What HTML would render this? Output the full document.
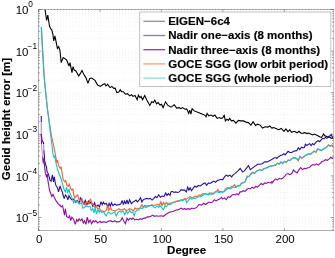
<!DOCTYPE html>
<html><head><meta charset="utf-8"><title>chart</title>
<style>html,body{margin:0;padding:0;background:#fff;}body{width:335px;height:258px;position:relative;overflow:hidden;font-family:"Liberation Sans",sans-serif;}</style></head>
<body>
<svg width="335" height="258" viewBox="0 0 335 258" style="position:absolute;left:0;top:0;will-change:transform">
<rect x="0" y="0" width="335" height="258" fill="#fff"/>
<g stroke="#dedede" stroke-width="0.6" stroke-dasharray="0.7,2.4" fill="none"><line x1="100.0" y1="9.5" x2="100.0" y2="230.5"/><line x1="161.4" y1="9.5" x2="161.4" y2="230.5"/><line x1="222.9" y1="9.5" x2="222.9" y2="230.5"/><line x1="284.4" y1="9.5" x2="284.4" y2="230.5"/><line x1="38.5" y1="38.6" x2="333.5" y2="38.6"/><line x1="38.5" y1="31.3" x2="333.5" y2="31.3"/><line x1="38.5" y1="26.1" x2="333.5" y2="26.1"/><line x1="38.5" y1="22.0" x2="333.5" y2="22.0"/><line x1="38.5" y1="18.7" x2="333.5" y2="18.7"/><line x1="38.5" y1="15.9" x2="333.5" y2="15.9"/><line x1="38.5" y1="13.5" x2="333.5" y2="13.5"/><line x1="38.5" y1="11.4" x2="333.5" y2="11.4"/><line x1="38.5" y1="51.1" x2="333.5" y2="51.1"/><line x1="38.5" y1="80.2" x2="333.5" y2="80.2"/><line x1="38.5" y1="72.9" x2="333.5" y2="72.9"/><line x1="38.5" y1="67.7" x2="333.5" y2="67.7"/><line x1="38.5" y1="63.6" x2="333.5" y2="63.6"/><line x1="38.5" y1="60.3" x2="333.5" y2="60.3"/><line x1="38.5" y1="57.5" x2="333.5" y2="57.5"/><line x1="38.5" y1="55.1" x2="333.5" y2="55.1"/><line x1="38.5" y1="53.0" x2="333.5" y2="53.0"/><line x1="38.5" y1="92.7" x2="333.5" y2="92.7"/><line x1="38.5" y1="121.8" x2="333.5" y2="121.8"/><line x1="38.5" y1="114.5" x2="333.5" y2="114.5"/><line x1="38.5" y1="109.3" x2="333.5" y2="109.3"/><line x1="38.5" y1="105.2" x2="333.5" y2="105.2"/><line x1="38.5" y1="101.9" x2="333.5" y2="101.9"/><line x1="38.5" y1="99.1" x2="333.5" y2="99.1"/><line x1="38.5" y1="96.7" x2="333.5" y2="96.7"/><line x1="38.5" y1="94.6" x2="333.5" y2="94.6"/><line x1="38.5" y1="134.3" x2="333.5" y2="134.3"/><line x1="38.5" y1="163.4" x2="333.5" y2="163.4"/><line x1="38.5" y1="156.1" x2="333.5" y2="156.1"/><line x1="38.5" y1="150.9" x2="333.5" y2="150.9"/><line x1="38.5" y1="146.8" x2="333.5" y2="146.8"/><line x1="38.5" y1="143.5" x2="333.5" y2="143.5"/><line x1="38.5" y1="140.7" x2="333.5" y2="140.7"/><line x1="38.5" y1="138.3" x2="333.5" y2="138.3"/><line x1="38.5" y1="136.2" x2="333.5" y2="136.2"/><line x1="38.5" y1="175.9" x2="333.5" y2="175.9"/><line x1="38.5" y1="205.0" x2="333.5" y2="205.0"/><line x1="38.5" y1="197.7" x2="333.5" y2="197.7"/><line x1="38.5" y1="192.5" x2="333.5" y2="192.5"/><line x1="38.5" y1="188.4" x2="333.5" y2="188.4"/><line x1="38.5" y1="185.1" x2="333.5" y2="185.1"/><line x1="38.5" y1="182.3" x2="333.5" y2="182.3"/><line x1="38.5" y1="179.9" x2="333.5" y2="179.9"/><line x1="38.5" y1="177.8" x2="333.5" y2="177.8"/><line x1="38.5" y1="217.5" x2="333.5" y2="217.5"/><line x1="38.5" y1="226.7" x2="333.5" y2="226.7"/><line x1="38.5" y1="223.9" x2="333.5" y2="223.9"/><line x1="38.5" y1="221.5" x2="333.5" y2="221.5"/><line x1="38.5" y1="219.4" x2="333.5" y2="219.4"/></g>
<defs><clipPath id="c"><rect x="38.5" y="9.5" width="295.0" height="221.0"/></clipPath></defs>
<g clip-path="url(#c)">
<polyline points="45.0,9.0 46.6,20.5 47.8,15.1 48.6,20.5 49.6,26.5 50.7,28.9 51.7,29.5 52.9,34.3 53.7,40.9 54.9,35.9 57.4,48.4 58.7,46.7 59.9,50.0 61.2,62.6 63.2,57.6 66.6,59.8 69.0,66.0 70.0,62.6 72.0,72.6 73.0,66.7 74.2,70.0 75.9,70.9 78.7,75.9 80.4,73.4 82.0,70.4 83.7,74.2 85.9,77.6 88.0,83.4 89.7,78.4 91.7,78.0 95.0,80.4 97.6,85.1 100.4,86.4 102.6,84.8 104.8,83.8 106.0,85.9 107.6,84.3 110.1,87.6 111.8,86.4 113.8,88.4 115.2,88.1 116.8,92.6 118.8,92.1 120.2,89.8 121.7,91.7 123.3,91.7 125.4,94.2 127.5,93.7 129.7,95.9 131.4,94.7 133.0,96.4 135.0,95.4 137.2,99.7 138.4,95.1 140.0,97.6 141.0,96.4 142.6,99.7 144.7,95.6 146.8,100.1 149.8,105.4 151.8,101.8 153.4,102.6 154.8,100.1 156.5,103.8 158.1,102.6 160.1,105.1 161.5,104.3 163.1,107.6 165.5,101.8 167.7,105.1 171.0,107.1 172.0,106.4 174.2,104.7 176.7,108.1 179.2,107.6 180.9,108.7 182.5,107.6 185.0,109.2 186.7,108.9 188.7,113.4 189.7,110.1 190.9,114.2 192.1,108.7 194.2,110.9 198.4,112.6 202.6,114.2 204.8,115.1 206.0,116.8 207.1,113.4 208.8,115.9 211.0,115.1 213.1,116.3 214.8,115.1 217.2,118.4 219.3,117.6 221.0,118.4 222.5,118.1 224.2,115.4 225.4,120.9 227.0,119.2 228.4,120.4 229.7,118.4 231.4,120.9 233.4,120.4 235.9,123.1 238.4,120.4 240.9,120.9 243.4,120.9 245.9,122.1 248.4,122.6 250.9,125.1 253.1,121.7 255.5,125.4 257.6,124.2 260.1,125.1 262.6,128.1 265.2,126.8 267.7,127.1 269.8,125.9 271.8,128.1 273.8,127.6 275.8,128.4 278.7,129.7 281.3,128.4 284.0,131.3 285.9,129.0 287.9,131.7 289.8,129.9 291.7,132.3 294.3,131.3 297.2,132.8 299.1,131.3 301.0,133.2 303.0,133.1 304.9,132.6 306.8,133.6 308.7,133.1 310.6,134.0 312.6,135.0 314.5,134.0 316.4,135.0 318.3,135.9 320.2,136.9 321.6,137.4 323.5,134.0 325.0,135.9 326.9,136.4 328.3,137.4 329.7,136.9 331.2,138.3 332.6,137.8 333.6,138.8" fill="none" stroke="#000" stroke-width="1.1" stroke-linejoin="miter" stroke-miterlimit="3" stroke-linecap="butt"/>
<polyline points="41.2,116.0 41.3,116.5 41.3,117.0 41.3,117.5 41.3,118.0 41.3,118.5 41.3,119.0 41.3,119.5 41.3,120.0 41.3,120.5 41.3,121.0 41.3,121.5 41.3,122.0" fill="none" stroke="#2a0f9c" stroke-width="1.1" stroke-linejoin="miter" stroke-miterlimit="3" stroke-linecap="butt"/><polyline points="41.3,122.0 41.3,122.5 41.3,123.0 41.3,123.5 41.3,124.0 41.3,124.5 41.3,125.0 41.3,125.5 41.3,126.0 41.3,126.5 41.3,127.0 41.3,127.5 41.3,128.0 41.3,128.5 41.3,129.0 41.3,129.5 41.3,130.0 41.3,130.5 41.3,131.0 41.3,131.5 41.3,132.0 41.3,132.5 41.3,133.0 41.3,133.5 41.3,134.0" fill="none" stroke="#9d92d4" stroke-width="1.1" stroke-linejoin="miter" stroke-miterlimit="3" stroke-linecap="butt"/><polyline points="41.3,134.0 41.3,134.5 41.3,135.0 41.4,135.5 41.5,136.1 41.5,136.6 41.6,137.1 41.7,137.6 41.8,138.2 41.9,138.7 42.0,139.2 42.0,139.7 42.1,140.2 42.2,140.8 42.3,141.3 42.9,141.9 43.5,142.5 43.5,143.0 43.6,143.5 43.6,144.0" fill="none" stroke="#2a0f9c" stroke-width="1.1" stroke-linejoin="miter" stroke-miterlimit="3" stroke-linecap="butt"/><polyline points="43.6,144.0 43.6,144.6 43.6,145.1 43.7,145.6 43.7,146.1 43.7,146.6 43.7,147.1 43.8,147.6 43.8,148.2 43.8,148.7 43.9,149.2 43.9,149.7 43.9,150.2" fill="none" stroke="#9d92d4" stroke-width="1.1" stroke-linejoin="miter" stroke-miterlimit="3" stroke-linecap="butt"/><polyline points="43.9,150.2 43.9,150.7 44.0,151.2 44.0,151.7 44.0,152.3 44.0,152.8 44.1,153.3 44.1,153.8 44.2,154.4 44.4,155.0 44.4,155.5 44.4,156.1 44.5,156.6 44.5,157.2 44.5,157.7 44.5,158.2 44.5,158.8 44.6,159.3 44.6,159.9 44.6,160.4 44.7,160.9 44.9,161.4 45.0,162.0 45.1,162.5 45.2,163.0 45.4,163.6 45.5,164.1 45.6,164.6 45.8,165.2 46.0,165.8 46.3,166.3 46.5,166.9 47.0,171.7 47.9,172.9 48.9,175.9 50.1,180.3 51.2,181.1 52.4,174.8 53.5,181.8 54.3,176.8 55.5,184.2 55.9,185.2 57.7,188.1 58.5,191.9 60.1,186.0 61.5,190.1 62.7,193.1 63.0,195.0 64.2,198.6 65.4,195.0 66.6,196.2 67.8,199.8 69.0,195.6 70.1,198.0 71.9,199.8 73.7,199.2 75.5,202.2 77.3,200.4 79.1,203.4 80.5,197.4 82.1,201.0 83.9,204.0 85.3,200.4 86.9,204.6 88.7,201.0 89.9,203.4 91.3,201.6 92.8,206.3 94.6,202.8 95.8,206.9 96.4,206.3 98.0,205.1 99.5,206.9 101.0,201.6 102.2,204.6 103.4,202.2 104.6,204.0 106.3,203.4 107.9,206.9 109.1,203.4 110.3,206.3 111.5,202.8 112.9,205.7 114.7,204.0 116.5,205.1 118.9,204.6 120.7,204.0 122.2,200.4 123.4,204.6 124.6,201.0 125.8,204.0 127.0,199.8 128.2,204.0 129.6,199.8 131.4,203.7 133.0,201.9 134.5,201.3 136.0,200.1 137.4,201.9 139.0,200.1 140.5,197.8 141.9,201.9 143.4,199.6 144.9,199.0 146.7,198.4 148.5,199.0 150.3,198.4 152.1,200.1 153.9,198.4 155.3,196.6 156.9,197.8 158.7,194.8 160.4,197.2 162.2,196.0 164.0,196.6 165.6,193.0 167.0,195.4 168.4,193.6 170.0,195.4 171.0,191.9 172.4,191.3 174.0,192.5 175.7,191.9 177.5,192.5 179.3,191.9 181.1,189.6 182.9,190.1 184.7,190.1 186.3,191.9 187.7,187.2 188.9,190.1 190.1,187.8 191.5,190.7 193.1,188.4 194.9,186.0 196.6,187.2 198.4,185.4 200.2,186.0 202.0,184.8 203.4,183.6 205.0,183.0 206.6,185.3 208.4,182.9 210.1,183.5 211.9,182.3 213.7,181.1 215.5,182.3 217.3,180.5 219.1,179.9 220.9,179.3 222.7,179.9 224.5,176.9 226.3,175.1 228.1,176.3 229.9,175.1 231.6,176.9 233.4,174.6 235.2,173.4 236.0,172.7 238.2,170.6 240.2,168.5 242.6,172.1 244.4,170.9 246.7,167.9 248.5,165.5 250.3,169.7 252.7,167.9 255.1,166.1 257.5,164.3 259.9,164.3 262.3,163.7 264.7,161.9 267.0,161.9 269.4,160.7 271.8,159.6 274.2,157.8 276.0,157.8 276.8,158.5 278.6,156.7 280.4,155.5 282.1,154.9 283.9,153.7 285.1,154.9 286.6,153.1 288.1,151.3 289.9,152.5 291.7,152.5 293.5,151.3 295.3,150.9 296.8,150.7 298.3,147.8 299.8,149.6 301.6,147.2 303.4,147.8 304.4,147.4 305.4,144.3 306.8,145.5 308.3,144.4 309.7,143.6 311.1,145.5 312.6,143.6 314.0,144.8 315.4,142.9 316.8,141.4 318.3,140.7 319.7,141.7 321.1,139.8 322.6,138.3 324.0,138.8 325.4,137.4 326.9,138.3 328.3,136.4 329.7,135.9 331.2,134.5 332.6,137.8 333.6,136.4" fill="none" stroke="#2a0f9c" stroke-width="1.1" stroke-linejoin="miter" stroke-miterlimit="3" stroke-linecap="butt"/>
<polyline points="41.2,134.0 41.3,134.5 41.3,135.0 41.3,135.5 41.3,136.0 41.3,136.5 41.3,137.0 41.3,137.5 41.4,138.0 41.4,138.5 41.4,139.0 41.4,139.5 41.4,140.0 41.4,140.5 41.4,141.0 41.4,141.5 41.5,142.0 41.5,142.5 41.5,143.0 41.5,143.5 41.5,144.0" fill="none" stroke="#8e0f9e" stroke-width="1.1" stroke-linejoin="miter" stroke-miterlimit="3" stroke-linecap="butt"/><polyline points="41.5,144.0 41.5,144.5 41.5,145.0 41.5,145.5 41.6,146.0 41.6,146.5 41.6,147.0 41.6,147.5 41.7,148.0 41.7,148.5 41.8,149.0 41.9,149.5 41.9,150.0 42.0,150.5 42.1,151.0 42.1,151.5 42.2,152.0 42.3,152.5 42.3,153.0 42.4,153.5 42.5,154.0 42.5,154.5 42.6,155.0 42.6,155.5 42.7,156.1 42.7,156.6" fill="none" stroke="#cf95d6" stroke-width="1.1" stroke-linejoin="miter" stroke-miterlimit="3" stroke-linecap="butt"/><polyline points="42.7,156.6 42.7,157.1 42.8,157.7 42.8,158.2 42.8,158.7 42.9,159.3 42.9,159.8 43.0,160.3 43.0,160.8 43.1,161.3 43.2,161.9 43.3,162.4 43.3,162.9 43.4,163.4 43.5,162.9 43.5,162.3 43.6,161.8 43.6,161.3 43.7,160.7 43.7,160.2 43.8,159.7 43.8,159.1 43.9,158.6 43.9,159.1 44.0,159.6 44.0,160.1 44.1,160.6 44.1,161.1 44.1,161.6 44.2,162.1 44.2,162.6 44.3,163.1 44.3,163.6 44.4,164.1 44.4,164.6 44.5,165.1 44.5,165.6 44.6,166.2 44.6,166.7 44.7,167.2 44.7,167.7 44.8,168.2 44.8,168.8 44.9,169.3 45.0,169.8 45.0,170.3 45.1,170.8 45.1,171.3 45.2,171.9 45.2,172.4 45.3,172.9 45.5,173.4 45.6,173.9 45.8,174.4 46.0,175.0 46.2,175.5 46.3,176.0 46.5,176.5 47.3,174.1 47.9,180.7 48.5,184.0 49.6,190.5 50.7,193.3 51.8,196.5 53.0,194.5 54.4,197.5 56.1,200.9 57.9,203.3 59.4,205.1 60.0,205.1 61.2,206.9 62.6,205.7 63.6,210.5 64.5,215.3 65.4,208.7 66.6,216.5 68.4,217.7 69.6,215.9 70.7,220.7 71.9,217.1 73.7,219.5 75.3,224.3 76.7,219.5 77.9,221.3 79.1,218.9 80.5,220.7 82.1,218.9 83.3,223.1 84.5,220.7 86.0,224.3 87.2,217.1 88.7,222.5 90.1,220.1 91.6,223.7 93.2,220.7 94.6,221.9 95.8,220.7 97.6,223.1 100.0,221.3 101.0,222.5 102.8,221.9 104.6,221.9 106.3,222.5 108.1,221.3 110.5,220.7 112.9,221.9 114.7,220.7 116.5,221.9 118.9,221.9 120.7,220.7 122.2,217.7 123.7,220.7 125.4,223.7 127.0,218.3 128.4,220.1 130.2,218.3 131.8,219.3 133.0,218.1 134.8,219.9 136.6,219.3 138.4,219.9 140.1,218.7 141.9,219.3 143.7,218.1 145.5,218.1 147.3,216.9 149.1,216.9 150.9,216.3 152.7,215.1 154.5,216.3 156.3,215.7 158.7,216.3 161.0,215.7 163.4,216.3 165.8,214.5 167.6,213.3 170.0,212.1 171.5,211.8 173.4,211.3 175.5,210.2 177.5,209.9 179.3,209.3 181.1,208.1 182.9,209.3 184.7,208.7 186.5,209.3 188.3,208.7 190.1,209.3 191.9,208.1 193.7,208.7 195.4,208.1 197.2,206.9 199.0,204.5 201.8,205.1 203.6,203.3 205.4,204.5 207.2,203.3 209.0,202.1 210.7,202.7 212.5,202.1 214.3,199.7 216.1,200.9 217.9,199.7 219.7,199.1 221.5,197.3 222.7,199.1 224.5,197.9 226.3,199.7 228.1,196.7 229.9,197.3 231.6,195.5 233.4,194.3 235.2,194.9 237.0,193.7 238.4,194.9 240.0,191.9 241.4,191.9 243.2,190.7 245.0,191.3 246.7,189.5 248.5,188.3 250.3,188.9 252.1,187.1 253.9,188.3 255.7,186.5 257.5,187.1 259.3,185.3 261.1,183.5 262.9,184.7 264.7,182.9 266.4,183.5 268.2,182.3 270.0,182.9 271.8,181.7 272.0,183.1 273.8,180.7 275.6,178.9 277.4,180.1 279.2,178.3 281.0,178.9 282.7,178.3 284.5,176.5 286.3,174.1 288.1,173.5 289.9,174.7 291.7,173.5 293.5,169.9 295.3,171.7 297.1,172.9 298.9,169.9 300.7,167.7 302.4,169.6 304.2,168.4 306.0,168.7 307.8,167.7 309.5,167.5 311.1,165.7 312.9,164.5 314.7,165.1 316.5,163.9 318.3,165.1 320.1,163.3 321.9,161.5 323.7,160.9 325.4,159.7 327.2,160.3 329.0,159.1 330.8,157.3 332.3,158.5 333.5,157.3" fill="none" stroke="#8e0f9e" stroke-width="1.1" stroke-linejoin="miter" stroke-miterlimit="3" stroke-linecap="butt"/>
<polyline points="41.4,27.2 42.4,45.0 44.2,77.0 47.1,107.0 51.3,135.0 53.5,145.0 54.8,151.3 56.0,158.2 57.0,163.2 57.5,160.0 58.6,165.9 60.2,168.4 61.1,166.7 62.4,175.0 63.3,180.0 64.9,181.8 65.7,180.6 66.9,185.4 68.1,186.6 69.3,184.2 70.5,188.4 71.7,190.1 72.9,189.0 73.7,195.0 74.9,198.0 76.1,196.2 77.7,195.0 79.1,199.8 80.9,201.6 82.1,199.2 83.3,203.4 85.1,205.1 86.9,201.6 88.7,204.0 90.4,198.6 92.0,204.0 93.4,205.1 94.9,207.5 96.4,205.7 97.4,208.7 99.2,208.1 100.7,210.5 102.8,211.1 104.6,211.7 106.3,210.5 107.5,205.7 108.7,210.5 110.3,207.5 111.7,209.9 113.5,210.5 115.3,211.1 117.1,209.9 118.9,208.7 120.7,209.9 122.5,209.9 124.3,208.7 126.0,210.5 127.8,209.9 129.6,208.7 131.8,209.7 133.6,210.9 135.0,207.9 136.6,209.1 138.4,208.5 140.1,207.9 141.9,204.9 143.4,207.3 144.9,205.5 146.7,206.1 148.5,205.5 150.3,205.5 152.1,204.9 153.9,205.5 155.7,204.9 157.5,204.3 159.3,205.5 160.8,201.9 162.0,205.5 163.4,202.5 164.9,204.9 166.4,202.5 168.2,204.3 170.0,203.1 172.2,202.7 174.0,202.1 175.7,201.5 177.5,200.9 179.3,200.9 181.1,199.7 182.9,199.7 184.7,198.5 186.5,199.1 188.3,197.9 190.1,196.7 191.9,197.9 193.7,197.3 195.4,196.1 197.2,196.7 199.0,194.9 200.8,195.5 202.6,193.7 205.0,193.7 206.0,193.7 207.8,194.3 209.6,193.1 211.3,193.1 213.1,193.7 214.9,191.9 216.7,191.3 217.9,189.5 219.1,191.9 220.9,191.3 222.7,191.9 224.5,190.7 226.3,188.3 228.1,187.7 229.9,188.3 231.6,186.5 233.4,185.9 234.6,184.7 235.8,187.1 237.3,185.9 238.8,185.3 240.0,185.3 241.4,183.3 243.2,182.5 245.0,181.9 246.1,179.0 247.3,176.2 249.1,176.5 250.9,173.7 252.7,172.3 254.5,173.6 256.3,171.2 258.1,170.6 259.9,169.4 261.7,170.6 263.5,168.8 265.3,168.2 267.0,167.4 268.8,167.0 270.6,165.8 272.4,165.9 274.2,165.2 276.0,164.9 277.4,163.0 279.2,164.2 281.0,161.8 282.7,163.6 284.5,161.2 286.3,162.5 288.1,160.0 289.9,160.7 291.7,158.8 293.5,157.6 295.3,158.2 296.8,158.9 298.3,160.9 299.8,156.4 301.6,158.2 303.4,157.0 305.1,155.8 306.9,154.6 308.7,154.1 310.5,154.0 312.3,152.9 314.1,151.0 315.9,152.4 317.7,148.7 319.5,149.9 321.3,150.4 323.1,149.3 324.9,148.1 326.6,147.4 328.4,144.9 330.2,146.3 332.0,145.1 333.5,147.2" fill="none" stroke="#ff5a2e" stroke-width="1.1" stroke-linejoin="miter" stroke-miterlimit="3" stroke-linecap="butt"/>
<polyline points="41.3,26.7 42.2,45.0 44.1,77.0 47.3,107.0 50.6,135.0 52.0,145.0 52.9,153.8 54.2,158.2 54.8,155.7 56.0,163.2 57.7,170.0 60.2,176.7 61.5,180.0 62.7,184.8 63.9,189.0 65.3,191.9 66.5,187.2 67.7,193.1 68.9,189.0 69.9,193.1 71.3,196.1 72.5,199.2 73.7,202.8 74.9,200.4 76.7,202.2 77.9,201.0 79.7,204.0 81.5,202.8 82.7,208.1 84.5,207.5 86.3,205.7 88.1,206.9 89.9,206.3 91.3,210.5 92.8,208.7 94.0,212.9 95.2,207.5 96.4,214.1 98.0,209.3 99.2,212.3 100.0,210.5 101.6,212.3 103.4,211.7 105.1,214.7 106.3,215.9 107.5,212.9 109.3,212.3 111.1,214.1 112.9,212.9 114.7,212.3 116.3,215.9 117.7,212.9 119.5,211.1 121.3,212.3 123.1,211.1 124.9,214.7 126.3,211.1 127.8,213.5 129.6,210.5 131.4,212.7 132.6,212.1 134.2,215.7 135.4,211.5 137.2,210.3 139.0,209.7 140.7,207.9 142.5,208.5 144.3,206.7 146.1,207.3 147.9,206.7 149.7,206.1 151.5,204.9 153.3,206.7 155.1,207.9 156.9,206.1 158.7,207.3 160.4,206.1 162.0,207.9 163.4,209.7 164.9,206.1 166.4,206.7 168.2,203.7 170.0,204.9 171.6,203.3 173.4,202.7 175.1,202.1 176.9,201.5 178.7,201.5 180.5,200.3 182.3,200.9 184.1,199.7 185.5,199.1 186.7,202.7 188.3,200.3 190.1,198.5 191.9,199.1 193.7,197.9 195.4,198.5 197.2,197.3 199.0,196.7 200.8,196.7 202.6,195.5 205.0,194.3 206.0,194.3 208.4,194.9 210.1,193.7 211.9,194.3 213.7,193.7 215.5,191.9 217.3,191.9 219.1,192.5 220.9,191.9 222.7,192.5 224.5,191.3 226.3,189.5 228.1,188.3 229.9,188.9 231.6,188.3 233.4,187.1 235.2,187.7 237.0,186.5 238.8,185.9 240.0,185.9 241.4,183.5 243.2,182.9 245.0,181.7 246.1,179.3 247.3,176.9 249.1,176.3 250.9,174.0 252.7,172.8 254.5,173.4 256.3,171.6 258.1,170.4 259.9,169.8 261.7,170.4 263.5,169.2 265.3,168.0 267.0,168.0 268.8,166.8 270.6,166.2 272.4,165.6 274.2,165.6 276.0,164.6 277.4,163.3 279.2,163.9 281.0,162.1 282.7,163.3 284.5,161.5 286.3,162.1 288.1,160.3 289.9,160.3 291.7,159.1 293.5,157.9 295.3,157.9 296.8,158.5 298.3,160.3 299.8,156.7 301.6,157.9 303.4,157.3 305.1,155.5 306.9,154.9 308.7,153.7 310.5,154.3 312.3,152.5 314.1,151.3 315.9,151.9 317.7,149.0 319.5,149.6 321.3,150.7 323.1,149.0 324.9,148.4 326.6,147.2 328.4,145.4 330.2,146.0 332.0,145.4 333.5,146.6" fill="none" stroke="#12c4c8" stroke-width="1.1" stroke-linejoin="miter" stroke-miterlimit="3" stroke-linecap="butt"/>
</g>
<g stroke-width="0.6" fill="none">
<line x1="38.5" y1="9.2" x2="38.5" y2="230.8" stroke="#777"/>
<line x1="38.2" y1="230.5" x2="333.8" y2="230.5" stroke="#777"/>
<line x1="333.5" y1="9.2" x2="333.5" y2="230.8" stroke="#999"/>
<line x1="38.2" y1="9.5" x2="333.8" y2="9.5" stroke="#888"/>
<line x1="38.5" y1="9.5" x2="333.5" y2="9.5" stroke="#555" stroke-dasharray="0.8,2.3"/>
</g>
<g stroke="#555" stroke-width="0.55"><line x1="38.5" y1="230.5" x2="38.5" y2="228.2"/><line x1="38.5" y1="9.5" x2="38.5" y2="11.8"/><line x1="100.0" y1="230.5" x2="100.0" y2="228.2"/><line x1="100.0" y1="9.5" x2="100.0" y2="11.8"/><line x1="161.4" y1="230.5" x2="161.4" y2="228.2"/><line x1="161.4" y1="9.5" x2="161.4" y2="11.8"/><line x1="222.9" y1="230.5" x2="222.9" y2="228.2"/><line x1="222.9" y1="9.5" x2="222.9" y2="11.8"/><line x1="284.4" y1="230.5" x2="284.4" y2="228.2"/><line x1="284.4" y1="9.5" x2="284.4" y2="11.8"/><line x1="38.5" y1="9.5" x2="41.3" y2="9.5"/><line x1="333.5" y1="9.5" x2="330.7" y2="9.5"/><line x1="38.5" y1="38.6" x2="39.9" y2="38.6"/><line x1="333.5" y1="38.6" x2="332.1" y2="38.6"/><line x1="38.5" y1="31.3" x2="39.9" y2="31.3"/><line x1="333.5" y1="31.3" x2="332.1" y2="31.3"/><line x1="38.5" y1="26.1" x2="39.9" y2="26.1"/><line x1="333.5" y1="26.1" x2="332.1" y2="26.1"/><line x1="38.5" y1="22.0" x2="39.9" y2="22.0"/><line x1="333.5" y1="22.0" x2="332.1" y2="22.0"/><line x1="38.5" y1="18.7" x2="39.9" y2="18.7"/><line x1="333.5" y1="18.7" x2="332.1" y2="18.7"/><line x1="38.5" y1="15.9" x2="39.9" y2="15.9"/><line x1="333.5" y1="15.9" x2="332.1" y2="15.9"/><line x1="38.5" y1="13.5" x2="39.9" y2="13.5"/><line x1="333.5" y1="13.5" x2="332.1" y2="13.5"/><line x1="38.5" y1="11.4" x2="39.9" y2="11.4"/><line x1="333.5" y1="11.4" x2="332.1" y2="11.4"/><line x1="38.5" y1="51.1" x2="41.3" y2="51.1"/><line x1="333.5" y1="51.1" x2="330.7" y2="51.1"/><line x1="38.5" y1="80.2" x2="39.9" y2="80.2"/><line x1="333.5" y1="80.2" x2="332.1" y2="80.2"/><line x1="38.5" y1="72.9" x2="39.9" y2="72.9"/><line x1="333.5" y1="72.9" x2="332.1" y2="72.9"/><line x1="38.5" y1="67.7" x2="39.9" y2="67.7"/><line x1="333.5" y1="67.7" x2="332.1" y2="67.7"/><line x1="38.5" y1="63.6" x2="39.9" y2="63.6"/><line x1="333.5" y1="63.6" x2="332.1" y2="63.6"/><line x1="38.5" y1="60.3" x2="39.9" y2="60.3"/><line x1="333.5" y1="60.3" x2="332.1" y2="60.3"/><line x1="38.5" y1="57.5" x2="39.9" y2="57.5"/><line x1="333.5" y1="57.5" x2="332.1" y2="57.5"/><line x1="38.5" y1="55.1" x2="39.9" y2="55.1"/><line x1="333.5" y1="55.1" x2="332.1" y2="55.1"/><line x1="38.5" y1="53.0" x2="39.9" y2="53.0"/><line x1="333.5" y1="53.0" x2="332.1" y2="53.0"/><line x1="38.5" y1="92.7" x2="41.3" y2="92.7"/><line x1="333.5" y1="92.7" x2="330.7" y2="92.7"/><line x1="38.5" y1="121.8" x2="39.9" y2="121.8"/><line x1="333.5" y1="121.8" x2="332.1" y2="121.8"/><line x1="38.5" y1="114.5" x2="39.9" y2="114.5"/><line x1="333.5" y1="114.5" x2="332.1" y2="114.5"/><line x1="38.5" y1="109.3" x2="39.9" y2="109.3"/><line x1="333.5" y1="109.3" x2="332.1" y2="109.3"/><line x1="38.5" y1="105.2" x2="39.9" y2="105.2"/><line x1="333.5" y1="105.2" x2="332.1" y2="105.2"/><line x1="38.5" y1="101.9" x2="39.9" y2="101.9"/><line x1="333.5" y1="101.9" x2="332.1" y2="101.9"/><line x1="38.5" y1="99.1" x2="39.9" y2="99.1"/><line x1="333.5" y1="99.1" x2="332.1" y2="99.1"/><line x1="38.5" y1="96.7" x2="39.9" y2="96.7"/><line x1="333.5" y1="96.7" x2="332.1" y2="96.7"/><line x1="38.5" y1="94.6" x2="39.9" y2="94.6"/><line x1="333.5" y1="94.6" x2="332.1" y2="94.6"/><line x1="38.5" y1="134.3" x2="41.3" y2="134.3"/><line x1="333.5" y1="134.3" x2="330.7" y2="134.3"/><line x1="38.5" y1="163.4" x2="39.9" y2="163.4"/><line x1="333.5" y1="163.4" x2="332.1" y2="163.4"/><line x1="38.5" y1="156.1" x2="39.9" y2="156.1"/><line x1="333.5" y1="156.1" x2="332.1" y2="156.1"/><line x1="38.5" y1="150.9" x2="39.9" y2="150.9"/><line x1="333.5" y1="150.9" x2="332.1" y2="150.9"/><line x1="38.5" y1="146.8" x2="39.9" y2="146.8"/><line x1="333.5" y1="146.8" x2="332.1" y2="146.8"/><line x1="38.5" y1="143.5" x2="39.9" y2="143.5"/><line x1="333.5" y1="143.5" x2="332.1" y2="143.5"/><line x1="38.5" y1="140.7" x2="39.9" y2="140.7"/><line x1="333.5" y1="140.7" x2="332.1" y2="140.7"/><line x1="38.5" y1="138.3" x2="39.9" y2="138.3"/><line x1="333.5" y1="138.3" x2="332.1" y2="138.3"/><line x1="38.5" y1="136.2" x2="39.9" y2="136.2"/><line x1="333.5" y1="136.2" x2="332.1" y2="136.2"/><line x1="38.5" y1="175.9" x2="41.3" y2="175.9"/><line x1="333.5" y1="175.9" x2="330.7" y2="175.9"/><line x1="38.5" y1="205.0" x2="39.9" y2="205.0"/><line x1="333.5" y1="205.0" x2="332.1" y2="205.0"/><line x1="38.5" y1="197.7" x2="39.9" y2="197.7"/><line x1="333.5" y1="197.7" x2="332.1" y2="197.7"/><line x1="38.5" y1="192.5" x2="39.9" y2="192.5"/><line x1="333.5" y1="192.5" x2="332.1" y2="192.5"/><line x1="38.5" y1="188.4" x2="39.9" y2="188.4"/><line x1="333.5" y1="188.4" x2="332.1" y2="188.4"/><line x1="38.5" y1="185.1" x2="39.9" y2="185.1"/><line x1="333.5" y1="185.1" x2="332.1" y2="185.1"/><line x1="38.5" y1="182.3" x2="39.9" y2="182.3"/><line x1="333.5" y1="182.3" x2="332.1" y2="182.3"/><line x1="38.5" y1="179.9" x2="39.9" y2="179.9"/><line x1="333.5" y1="179.9" x2="332.1" y2="179.9"/><line x1="38.5" y1="177.8" x2="39.9" y2="177.8"/><line x1="333.5" y1="177.8" x2="332.1" y2="177.8"/><line x1="38.5" y1="217.5" x2="41.3" y2="217.5"/><line x1="333.5" y1="217.5" x2="330.7" y2="217.5"/><line x1="38.5" y1="230.0" x2="39.9" y2="230.0"/><line x1="333.5" y1="230.0" x2="332.1" y2="230.0"/><line x1="38.5" y1="226.7" x2="39.9" y2="226.7"/><line x1="333.5" y1="226.7" x2="332.1" y2="226.7"/><line x1="38.5" y1="223.9" x2="39.9" y2="223.9"/><line x1="333.5" y1="223.9" x2="332.1" y2="223.9"/><line x1="38.5" y1="221.5" x2="39.9" y2="221.5"/><line x1="333.5" y1="221.5" x2="332.1" y2="221.5"/><line x1="38.5" y1="219.4" x2="39.9" y2="219.4"/><line x1="333.5" y1="219.4" x2="332.1" y2="219.4"/></g>
<g font-family="Liberation Sans, sans-serif" font-size="11.5" fill="#000">
<text x="39.2" y="242.9" text-anchor="middle">0</text>
<text x="100.7" y="242.9" text-anchor="middle">50</text>
<text x="162.1" y="242.9" text-anchor="middle">100</text>
<text x="223.6" y="242.9" text-anchor="middle">150</text>
<text x="285.1" y="242.9" text-anchor="middle">200</text>
<text x="28.5" y="13.9" text-anchor="end">10</text>
<text x="28.3" y="7.1" font-size="8.3">0</text>
<text x="28.5" y="55.6" text-anchor="end">10</text>
<text x="27.6" y="48.8" font-size="8.3">−1</text>
<text x="28.5" y="97.3" text-anchor="end">10</text>
<text x="27.6" y="90.5" font-size="8.3">−2</text>
<text x="28.5" y="139.0" text-anchor="end">10</text>
<text x="27.6" y="132.2" font-size="8.3">−3</text>
<text x="28.5" y="180.7" text-anchor="end">10</text>
<text x="27.6" y="173.9" font-size="8.3">−4</text>
<text x="28.5" y="222.4" text-anchor="end">10</text>
<text x="27.6" y="215.6" font-size="8.3">−5</text>
</g>
<g font-family="Liberation Sans, sans-serif" font-weight="bold" font-size="11.5" fill="#000" stroke="#000" stroke-width="0.15">
<text x="186.6" y="254.4" text-anchor="middle">Degree</text>
<text transform="translate(9.6,119) rotate(-90)" text-anchor="middle" font-size="11.6">Geoid height error [m]</text>
</g>
<rect x="139.8" y="12" width="191.1" height="74.4" fill="#fff" stroke="#999" stroke-width="0.6"/>
<g font-family="Liberation Sans, sans-serif" font-weight="bold" font-size="11.52" fill="#000" stroke="#000" stroke-width="0.15">
<line x1="143.4" y1="21.3" x2="165.1" y2="21.3" stroke="#909090" stroke-width="1.3"/>
<text x="168.2" y="25.1">EIGEN−6c4</text>
<line x1="143.4" y1="35.5" x2="165.1" y2="35.5" stroke="#8176c8" stroke-width="1.3"/>
<text x="168.2" y="39.3">Nadir one−axis (8 months)</text>
<line x1="143.4" y1="49.7" x2="165.1" y2="49.7" stroke="#a030ae" stroke-width="1.3"/>
<text x="168.2" y="53.5">Nadir three−axis (8 months)</text>
<line x1="143.4" y1="63.9" x2="165.1" y2="63.9" stroke="#ff9a7e" stroke-width="1.3"/>
<text x="168.2" y="67.7">GOCE SGG (low orbit period)</text>
<line x1="143.4" y1="78.1" x2="165.1" y2="78.1" stroke="#84dde2" stroke-width="1.3"/>
<text x="168.2" y="81.9">GOCE SGG (whole period)</text>
</g>
</svg>
</body></html>
